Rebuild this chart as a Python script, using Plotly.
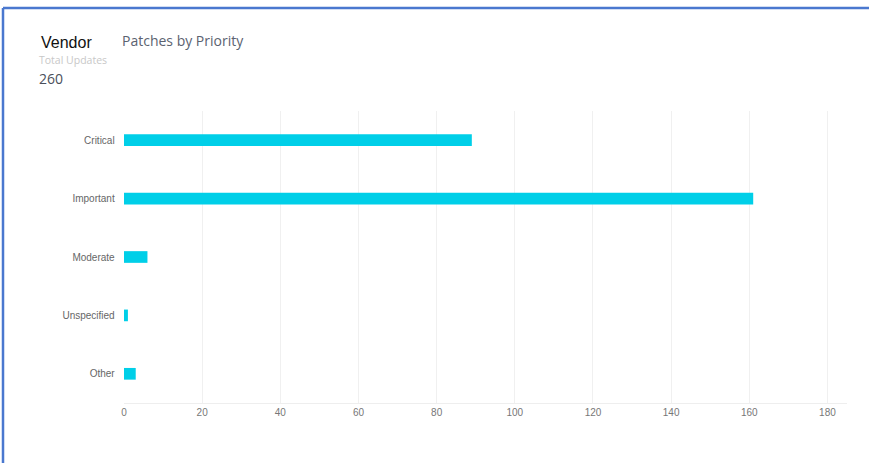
import plotly.graph_objects as go

categories = ["Critical", "Important", "Moderate", "Unspecified", "Other"]
values = [89, 161, 6, 1, 3]
tick_vals = [0, 20, 40, 60, 80, 100, 120, 140, 160, 180]

W, H = 869, 463
L, R, T, B = 124, 22, 111, 60
pw = W - L - R
ph = H - T - B

def px(x):
    return (x - L) / pw

def py(y):
    return (H - B - y) / ph

fig = go.Figure(go.Bar(
    x=values, y=categories, orientation="h",
    marker=dict(color="#00cfe8", line=dict(width=0)),
    width=0.2, hoverinfo="x+y",
))

fig.update_layout(
    width=W, height=H,
    margin=dict(l=L, r=R, t=T, b=B),
    paper_bgcolor="white", plot_bgcolor="white",
    showlegend=False,
    font=dict(family="Liberation Sans, Arial, sans-serif", size=10, color="#6e6e6e"),
    xaxis=dict(range=[0, 185], tickvals=tick_vals, showgrid=True, gridcolor="#f0f0f0",
               gridwidth=1, zeroline=False, showline=True, linecolor="#eeeeee",
               ticks="", tickfont=dict(size=10, color="#777777"), fixedrange=True),
    yaxis=dict(categoryorder="array", categoryarray=categories[::-1], showgrid=False,
               zeroline=False, ticks="", ticklen=0, ticksuffix="   ",
               tickfont=dict(size=10, color="#666666"), fixedrange=True),
    bargap=0.8,
)

anns = [
    dict(text="Vendor", x=px(39), y=py(43), font=dict(family="Liberation Sans, Arial", size=16, color="#111111")),
    dict(text="Patches by Priority", x=px(120), y=py(41), font=dict(family="Open Sans, Lato, sans-serif", size=14, color="#5b6270")),
    dict(text="Total Updates", x=px(37), y=py(60), font=dict(family="Open Sans, Lato, sans-serif", size=10.5, color="#c8c8c8")),
    dict(text="260", x=px(37), y=py(78), font=dict(family="Open Sans, Lato, sans-serif", size=14, color="#4a4f5a")),
]
for a in anns:
    a.update(xref="paper", yref="paper", xanchor="left", yanchor="middle", showarrow=False)
fig.update_layout(annotations=anns)

fig.update_layout(shapes=[
    dict(type="line", xref="paper", yref="paper", x0=px(3), x1=px(869), y0=py(8), y1=py(8),
         line=dict(color="#4a78cf", width=2.5)),
    dict(type="line", xref="paper", yref="paper", x0=px(3), x1=px(3), y0=py(8), y1=py(463),
         line=dict(color="#4a78cf", width=2.5)),
])

fig.write_html("out.html", config={"displayModeBar": False},
               post_script="document.body.style.margin='0';")
